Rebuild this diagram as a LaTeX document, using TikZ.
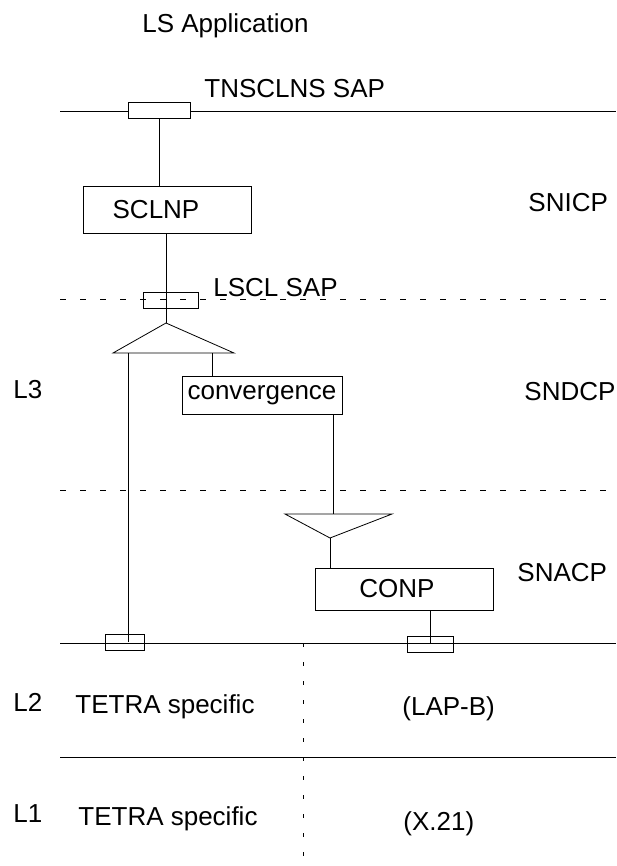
\documentclass[tikz,border=0pt]{standalone}
\usepackage{fontspec}
\setmainfont{Liberation Sans}
\usetikzlibrary{positioning}

\begin{document}
\begin{tikzpicture}[
    x=0.5pt, y=-0.5pt,
    every node/.style={font=\fontsize{13}{15}\selectfont},
    lbl/.style={anchor=base west, inner sep=0pt},
    block/.style={rectangle, draw, inner sep=0pt},
    sap/.style={rectangle, draw, inner sep=0pt, minimum height=8pt},
    sublayer/.style={dash pattern=on 3pt off 7pt},
    split/.style={dash pattern=on 2pt off 7.5pt},
]
    \useasboundingbox (0,0) rectangle (616,866);

    % layer boundaries
    \draw (60,111) -- (616,111);
    \draw[sublayer] (60,299) -- (616,299);
    \draw[sublayer] (60,490) -- (616,490);
    \draw (60,643) -- (616,643);
    \draw (60,757) -- (616,757);
    \draw[split] (303,643) -- (303,866);

    % service access points
    \node[sap, fill=white, minimum width=31pt] (tnsap) at (159,110) {};
    \node[sap, minimum width=27.5pt] (lsclsap) at (170.5,300) {};
    \node[sap, minimum width=19.5pt] (sapl) at (124.5,642) {};
    \node[sap, minimum width=23pt] (sapr) at (430,644) {};

    % protocol blocks (text sits a little left of centre)
    \node[block, minimum width=84pt, minimum height=23.5pt] (sclnp) at (167,209.5) {SCLNP\hspace*{11pt}};
    \node[block, minimum width=80pt, minimum height=19pt] (conv) at (262,395) {convergence};
    \node[block, minimum width=89pt, minimum height=21pt] (conp) at (404,589) {CONP\hspace*{7pt}};

    % splitter and merger
    \coordinate (apex) at (166,323);
    \coordinate (legl) at (128,353);
    \coordinate (legr) at (212,353);
    \coordinate (dn) at (333,514);
    \coordinate (vapex) at (330,538);
    \draw (apex) -- (113,353) -- (234,353) -- cycle;
    \draw (285,514) -- (392,514) -- (vapex) -- cycle;

    % labels
    \node[lbl] (app) at (142,33) {LS Application};
    \node[lbl] (tnlbl) at (204,98) {TNSCLNS SAP};
    \node[lbl] (lscllbl) at (213,296) {LSCL SAP};
    \node[lbl] (snicp) at (528,212) {SNICP};
    \node[lbl] (sndcp) at (524,400) {SNDCP};
    \node[lbl] (snacp) at (517,581) {SNACP};
    \node[lbl] (lthree) at (13,398) {L3};
    \node[lbl] (ltwo) at (13,711) {L2};
    \node[lbl] (lone) at (13,822) {L1};
    \node[lbl] (tetratwo) at (75,713) {TETRA specific};
    \node[lbl] (tetraone) at (78,825) {TETRA specific};
    \node[lbl] (lapb) at (402,715) {(LAP-B)};
    \node[lbl] (xtwoone) at (403,830) {(X.21)};

    % connectors
    \draw (tnsap) -- (sclnp.north -| tnsap);
    \draw (sclnp.south -| apex) -- (apex);
    \draw (legl) -- (legl |- sapl.center);
    \draw (legr) -- (legr |- conv.north);
    \draw (conv.south -| dn) -- (dn);
    \draw (vapex) -- (vapex |- conp.north);
    \draw (conp.south -| sapr) -- (sapr.center);
\end{tikzpicture}
\end{document}
